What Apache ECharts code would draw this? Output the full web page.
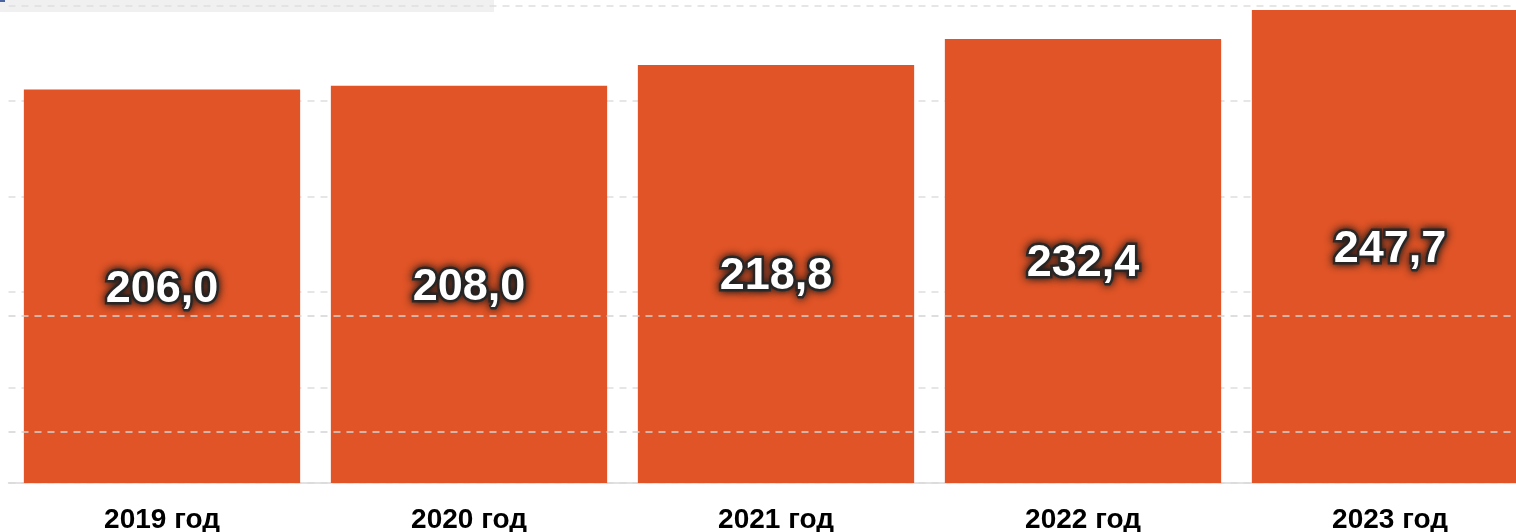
<!DOCTYPE html>
<html>
<head>
<meta charset="utf-8">
<script src="https://cdn.jsdelivr.net/npm/echarts@6/dist/echarts.min.js"></script>
<style>
html,body{margin:0;padding:0;background:#fff;overflow:hidden;}
#chart{width:1516px;height:532px;}
</style>
</head>
<body>
<div id="chart"></div>
<script>
const categories = ['2019 год', '2020 год', '2021 год', '2022 год', '2023 год'];
const values = [206.0, 208.0, 218.8, 232.4, 247.7];
const refLines = [26.7, 87.5];

const chart = echarts.init(document.getElementById('chart'));
chart.setOption({
  animation: false,
  backgroundColor: '#ffffff',
  graphic: [
    { type: 'rect', z: -10, shape: { x: 0, y: 0, width: 494, height: 12 }, style: { fill: '#f0f0f0' } },
    { type: 'rect', z: -9, shape: { x: 0, y: 0, width: 5, height: 2 }, style: { fill: '#4a64a0' } }
  ],
  grid: { left: 8.5, width: 1535, top: 5.5, height: 477.5, containLabel: false, outerBoundsMode: 'none' },
  xAxis: {
    type: 'category',
    data: categories,
    axisTick: { show: false },
    axisLine: { lineStyle: { color: '#d9d9d9', width: 1.5 } },
    axisLabel: {
      color: '#000',
      fontFamily: 'Liberation Sans, Arial, sans-serif',
      fontWeight: 'bold',
      fontSize: 28,
      margin: 23
    }
  },
  yAxis: {
    type: 'value',
    min: 0,
    max: 250,
    interval: 50,
    axisLabel: { show: false },
    axisLine: { show: false },
    axisTick: { show: false },
    splitLine: { lineStyle: { color: '#dedede', type: [7, 6], width: 1.5 } }
  },
  series: [{
    type: 'bar',
    data: values,
    barCategoryGap: '10%',
    itemStyle: { color: '#E05427' },
    label: {
      show: true,
      position: 'inside',
      offset: [0, 3],
      formatter: p => p.value.toFixed(1).replace('.', ','),
      color: '#fff',
      fontFamily: 'Liberation Sans, Arial, sans-serif',
      fontWeight: 'bold',
      fontSize: 45,
      textBorderColor: 'rgba(45,45,45,0.95)',
      textBorderWidth: 5,
      textShadowColor: '#1a1a1a',
      textShadowBlur: 9
    },
    markLine: {
      silent: true,
      symbol: 'none',
      label: { show: false },
      lineStyle: { color: '#d4d4d4', type: [7, 6], width: 1.5 },
      data: refLines.map(v => ({ yAxis: v }))
    }
  }]
});
</script>
</body>
</html>
